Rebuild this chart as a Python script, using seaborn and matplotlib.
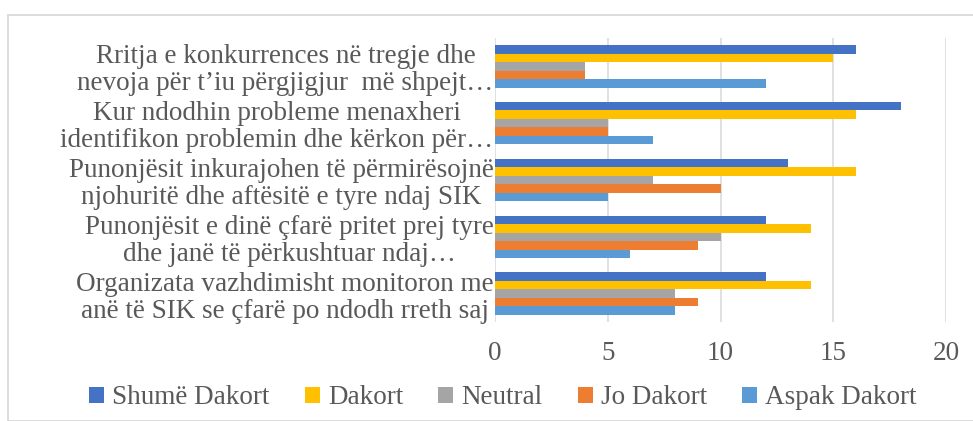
import matplotlib
matplotlib.use("Agg")
import matplotlib.pyplot as plt
import seaborn as sns
import pandas as pd
from matplotlib.patches import Rectangle

categories = [
    "Rritja e konkurrences në tregje dhe\nnevoja për t’iu përgjigjur  më shpejt…",
    "Kur ndodhin probleme menaxheri\nidentifikon problemin dhe kërkon për…",
    "Punonjësit inkurajohen të përmirësojnë\nnjohuritë dhe aftësitë e tyre ndaj SIK",
    "Punonjësit e dinë çfarë pritet prej tyre\ndhe janë të përkushtuar ndaj…",
    "Organizata vazhdimisht monitoron me\nanë të SIK se çfarë po ndodh rreth saj",
]
series = ["Shumë Dakort", "Dakort", "Neutral", "Jo Dakort", "Aspak Dakort"]
shume_dakort = [16, 18, 13, 12, 12]
dakort = [15, 16, 16, 14, 14]
neutral = [4, 5, 7, 10, 8]
jo_dakort = [4, 5, 10, 9, 9]
aspak_dakort = [12, 7, 5, 6, 8]
xticks = [0, 5, 10, 15, 20]
colors = ["#4472C4", "#FFC000", "#A5A5A5", "#ED7D31", "#5B9BD5"]

values = [shume_dakort, dakort, neutral, jo_dakort, aspak_dakort]
rows = []
for s, vals in zip(series, values):
    for c, v in zip(categories, vals):
        rows.append({"category": c, "series": s, "value": v})
df = pd.DataFrame(rows)

sns.set_style("white")
plt.rcParams["font.family"] = ["Liberation Serif", "DejaVu Serif"]
text_color = "#595959"
fs = 19.5

W, H = 973, 421
fig = plt.figure(figsize=(W / 100, H / 100), dpi=100)
ax = fig.add_axes([495 / W, (H - 322) / H, (946 - 495) / W, (322 - 38) / H])

sns.barplot(data=df, y="category", x="value", hue="series", orient="h",
            order=categories, hue_order=series, palette=colors,
            width=0.75, linewidth=0, saturation=1, ax=ax, errorbar=None)

ax.set_xlim(0, 20)
ax.set_xticks(xticks)
ax.set_xticklabels([str(t) for t in xticks])
ax.set_xlabel("")
ax.set_ylabel("")
for sp in ax.spines.values():
    sp.set_visible(False)
ax.xaxis.grid(True, color="#D9D9D9", linewidth=1.1)
ax.yaxis.grid(False)
ax.set_axisbelow(True)
ax.tick_params(axis="x", length=0, pad=14, labelsize=fs, labelcolor=text_color)
ax.tick_params(axis="y", length=0, pad=1, labelsize=fs, labelcolor=text_color)
for lab in ax.get_yticklabels():
    lab.set_multialignment("center")
    lab.set_linespacing(1.1)

handles, labels = ax.get_legend_handles_labels()
ax.get_legend().remove()
leg = fig.legend(handles, labels, loc="center", ncol=5, frameon=False,
                 bbox_to_anchor=(503 / W, (H - 398) / H),
                 bbox_transform=fig.transFigure,
                 fontsize=fs, handlelength=0.55, handleheight=0.55,
                 handletextpad=0.3, columnspacing=1.3, borderpad=0)
for t in leg.get_texts():
    t.set_color(text_color)

# chart border
fig.patches.append(Rectangle((8 / W, 0), 1.2, (H - 15) / H, transform=fig.transFigure,
                             fill=False, edgecolor="#D9D9D9", linewidth=1.3))

fig.savefig("out.png", dpi=100)
